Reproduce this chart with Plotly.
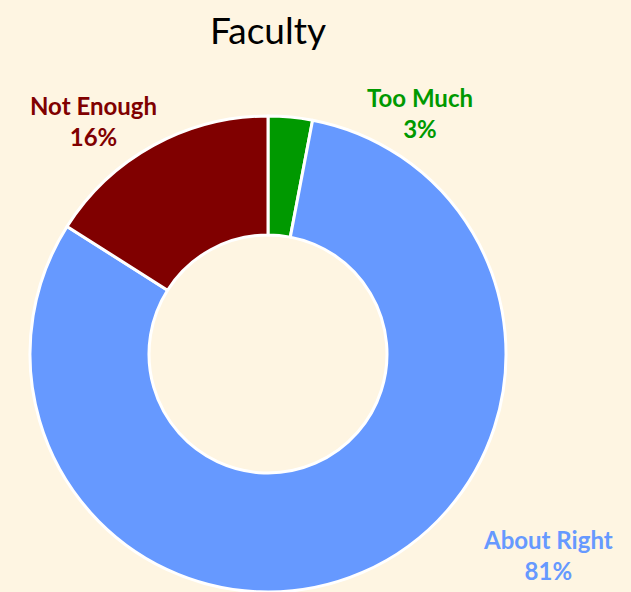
import plotly.graph_objects as go

categories = ["Too Much", "About Right", "Not Enough"]
values = [3, 81, 16]
colors = ["#009900", "#6699FF", "#800000"]
label_texts = ["Too Much<br>3%", "About Right<br>81%", "Not Enough<br>16%"]

W, H = 631, 592
BG = "#FEF5E2"
fig = go.Figure(go.Pie(
    labels=categories,
    values=values,
    hole=0.5,
    sort=False,
    direction="clockwise",
    rotation=0,
    marker=dict(colors=colors, line=dict(color="white", width=3)),
    textinfo="none",
    hoverinfo="label+percent",
    showlegend=False,
    domain=dict(x=[28 / W, 508 / W], y=[0, 1 - 116 / H]),
))

label_pos = [(420, 113), (548, 555), (93, 121)]
for txt, col, (px, py) in zip(label_texts, colors, label_pos):
    fig.add_annotation(
        x=px / W, y=1 - py / H, xref="paper", yref="paper",
        text=f"<b>{txt}</b>", showarrow=False,
        font=dict(family="Lato, sans-serif", size=24, color=col),
        xanchor="center", yanchor="middle", align="center",
    )

fig.add_annotation(
    x=268 / W, y=1 - 30 / H, xref="paper", yref="paper",
    text="Faculty", showarrow=False,
    font=dict(family="Lato, sans-serif", size=37, color="black"),
    xanchor="center", yanchor="middle",
)

fig.update_layout(
    width=W, height=H,
    margin=dict(l=0, r=0, t=0, b=0),
    paper_bgcolor=BG,
    plot_bgcolor=BG,
)
fig.write_html(
    "out.html",
    config={"displayModeBar": False},
    post_script=f"document.body.style.margin='0';document.body.style.background='{BG}';",
)
